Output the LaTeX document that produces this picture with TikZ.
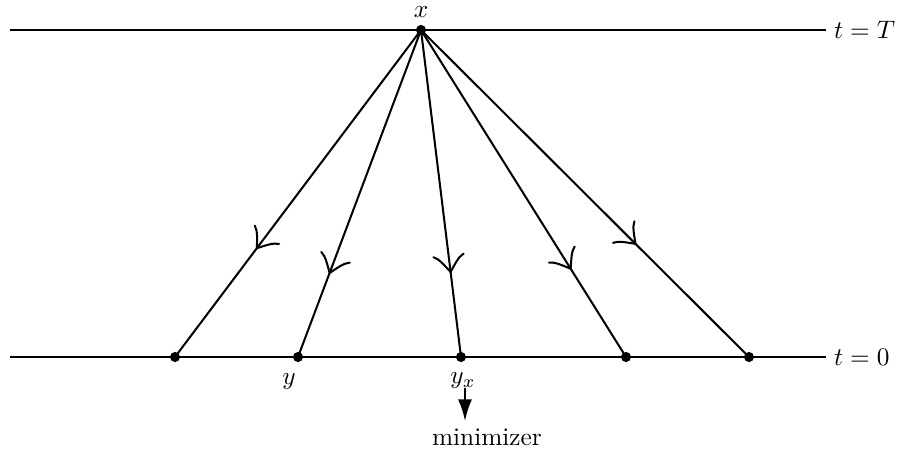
\documentclass[tikz,border=0pt]{standalone}
\usetikzlibrary{arrows.meta,decorations.markings}
\begin{document}
\begin{tikzpicture}[x=0.395pt,y=-0.395pt,line width=0.8pt,
  dot/.style={circle,fill,inner sep=0pt,minimum size=4pt},
  midarrow/.style={postaction={decorate},decoration={markings,
    mark=at position #1 with {\draw[line width=0.8pt,line cap=round,line join=round]
      (-6.6pt,6pt) .. controls (-5.6pt,3.8pt) and (-3pt,2.2pt) .. (0,0)
      .. controls (-3pt,-2.2pt) and (-5.6pt,-3.8pt) .. (-6.6pt,-6pt);}}}]
\useasboundingbox (0,0) rectangle (907,451);
% horizontal lines
\coordinate (lT) at (10,30);
\coordinate (l0) at (10,357);
\coordinate (rT) at (826,30);
\coordinate (r0) at (826,357);
\node[anchor=west,inner sep=0pt] (tT) at (833,30) {$t=T$};
\node[anchor=west,inner sep=0pt] (t0) at (833,357) {$t=0$};
\draw (lT) -- (rT);
\draw (l0) -- (r0);
% points
\node[dot] (x) at (421,30) {};
\node[dot] (b1) at (175,357) {};
\node[dot] (b2) at (298,357) {};
\node[dot] (b3) at (461,357) {};
\node[dot] (b4) at (626,357) {};
\node[dot] (b5) at (749,357) {};
% rays
\draw[midarrow=0.667] (x.center) -- (b1.center);
\draw[midarrow=0.743] (x.center) -- (b2.center);
\draw[midarrow=0.74] (x.center) -- (b3.center);
\draw[midarrow=0.73] (x.center) -- (b4.center);
\draw[midarrow=0.654] (x.center) -- (b5.center);
% labels
\node (xl) at (421,12) {$x$};
\node (yl) at (289,382) {$y$};
\node (yxl) at (463,381) {$y_x$};
\node (mn) at (487,437) {minimizer};
\coordinate (as) at (465,388);
\coordinate (ae) at (465,421);
\draw[-{Latex[length=8.5pt,width=5.5pt]}] (as) -- (ae);
\end{tikzpicture}
\end{document}
